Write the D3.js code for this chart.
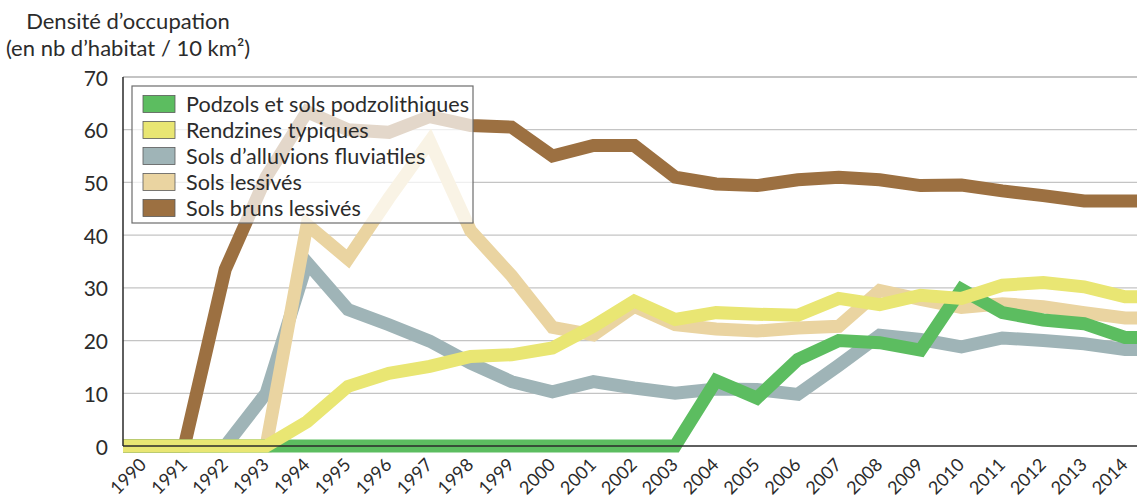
<!DOCTYPE html>
<html>
<head>
<meta charset="utf-8">
<script src="https://cdn.jsdelivr.net/npm/d3@7"></script>
<style>
  html, body { margin: 0; padding: 0; background: #fff; }
  svg { display: block; }
  text { font-family: Lato, "Open Sans", sans-serif; fill: #2b2b2b; }
</style>
</head>
<body>
<svg id="chart" width="1137" height="498"></svg>
<script>
// ---- data ----
const years = [1990,1991,1992,1993,1994,1995,1996,1997,1998,1999,2000,2001,2002,2003,2004,2005,2006,2007,2008,2009,2010,2011,2012,2013,2014];
const podzols   = [0,0,0,0,0,0,0,0,0,0,0,0,0,0,12.4,9.1,16.4,20,19.6,18.2,29.7,25.3,23.9,23.2,20.6];
const rendzines = [0,0,0,0,4.6,11.3,13.8,15.1,17,17.3,18.6,22.7,27.5,24,25.3,25,24.8,28,26.8,28.6,28,30.5,31,30.2,28.3];
const alluvions = [0,0,0,10,34.8,25.9,23,19.9,15.7,12.2,10.3,12.2,11,10,10.8,10.7,9.8,15.3,21,20.2,18.8,20.5,20,19.4,18.3];
const lessives  = [0,0,0,0,42,35.5,47,57.8,40.8,32.3,22.5,21.1,26.5,23,22.2,21.8,22.4,22.7,29.5,27.8,26.3,27,26.4,25.3,24.3];
const bruns     = [0,0,33.5,51,63.4,60,59.5,62.5,60.8,60.5,55,57,57,51,49.7,49.4,50.5,51,50.5,49.4,49.5,48.4,47.5,46.5,46.5];
const seriesNames = ["Podzols et sols podzolithiques","Rendzines typiques","Sols d\u2019alluvions fluviatiles","Sols lessiv\u00e9s","Sols bruns lessiv\u00e9s"];
const seriesColors = ["#5cbd60","#e9e673","#9fb4b7","#ead4a1","#9c7041"];
const yTicks = [0,10,20,30,40,50,60,70];
const titleLines = ["Densit\u00e9 d\u2019occupation","(en nb d\u2019habitat / 10 km\u00b2)"];

const seriesValues = [podzols, rendzines, alluvions, lessives, bruns];
const drawOrder = [2,3,4,0,1];

// ---- layout ----
const svg = d3.select("#chart");
const x = d3.scaleBand().domain(years).range([123, 1145.5]).paddingInner(0).paddingOuter(0);
const y = d3.scaleLinear().domain([0,70]).range([446, 77]);
const xc = d => x(d) + x.bandwidth()/2;
const xLeft = x.range()[0], xRight = 1137;

// gridlines
svg.append("g").selectAll("line").data(yTicks.filter(t => t > 0)).join("line")
  .attr("x1", xLeft).attr("x2", xRight)
  .attr("y1", d => y(d)).attr("y2", d => y(d))
  .attr("stroke", d => d === 70 ? "#8a8a8a" : "#c4c4c4")
  .attr("stroke-width", 1.2);

// lines
const line = d3.line().x(d => d[0]).y(d => y(d[1])).curve(d3.curveLinear);
drawOrder.forEach(i => {
  const vals = seriesValues[i];
  const pts = [[x.range()[0], vals[0]]]
    .concat(years.map((yr, j) => [xc(yr), vals[j]]))
    .concat([[x.range()[1], vals[vals.length-1]]]);
  svg.append("path").datum(pts)
    .attr("d", line)
    .attr("fill", "none")
    .attr("stroke", seriesColors[i])
    .attr("stroke-width", 13)
    .attr("stroke-linejoin", "miter")
    .attr("stroke-miterlimit", 3);
});

// axes lines
svg.append("line").attr("x1", xLeft).attr("x2", xRight).attr("y1", y(0)).attr("y2", y(0))
  .attr("stroke", "#2a2a2a").attr("stroke-width", 1.5);
svg.append("line").attr("x1", xLeft).attr("x2", xLeft).attr("y1", y(70)).attr("y2", y(0))
  .attr("stroke", "#2a2a2a").attr("stroke-width", 1.5);

// y tick labels
svg.append("g").selectAll("text").data(yTicks).join("text")
  .attr("x", 108).attr("y", d => y(d))
  .attr("text-anchor", "end").attr("dominant-baseline", "central")
  .attr("font-size", 21)
  .text(d => d);

// x tick labels
svg.append("g").selectAll("text").data(years).join("text")
  .attr("transform", d => `translate(${xc(d) - 1},${461}) rotate(-45)`)
  .attr("text-anchor", "end")
  .attr("dominant-baseline", "central")
  .attr("font-size", 18)
  .text(d => d);

// title
svg.append("g").selectAll("text").data(titleLines).join("text")
  .attr("x", 128).attr("y", (d, i) => 29 + i * 27)
  .attr("text-anchor", "middle")
  .attr("font-size", 22)
  .text(d => d);

// legend
const lg = svg.append("g");
lg.append("rect").attr("x", 132).attr("y", 86).attr("width", 341).attr("height", 137)
  .attr("fill", "#fff").attr("fill-opacity", 0.72)
  .attr("stroke", "#6d6d6d").attr("stroke-width", 1.2);
seriesNames.forEach((name, i) => {
  const cy = 104 + i * 26;
  lg.append("rect").attr("x", 143).attr("y", cy - 8.5).attr("width", 32).attr("height", 17)
    .attr("fill", seriesColors[i]).attr("stroke", "#5a5a5a").attr("stroke-width", 0.8);
  lg.append("text").attr("x", 186).attr("y", cy).attr("dominant-baseline", "central")
    .attr("font-size", 21.6).text(name);
});
</script>
</body>
</html>
